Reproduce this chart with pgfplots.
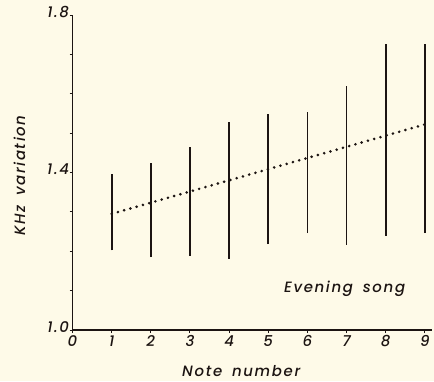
\documentclass[border=0pt]{standalone}
\usepackage{pgfplots}
\pgfplotsset{compat=1.18}
\usepackage{fontspec}
\setmainfont{Poppins Medium}[LetterSpace=11, WordSpace=1.6]
\definecolor{bg}{RGB}{254,250,232}
\definecolor{ink}{RGB}{28,20,18}
\begin{document}
\begin{tikzpicture}[x=1bp,y=1bp]
\fill[bg] (0,0) rectangle (434,381);
\begin{axis}[
  at={(72.5bp,51bp)}, anchor=origin,
  scale only axis, width=359bp, height=315bp,
  xmin=0, xmax=9.17, ymin=1.0, ymax=1.8,
  axis x line*=bottom, axis y line*=left,
  axis line style={ink, line width=1.6bp, -},
  xtick={0,1,...,9},
  ytick={1.0,1.4,1.8},
  minor ytick={1.1,1.2,1.3,1.5,1.6,1.7},
  yticklabels={1.0,1.4,1.8},
  tick align=outside,
  major tick length=3bp, minor tick length=3bp,
  tick style={ink, line width=1bp},
  /pgf/number format/assume math mode=true,
  ticklabel style={font=\fontsize{15}{17}\selectfont\itshape, text=ink},
  xticklabel style={yshift=1bp},
  yticklabel style={xshift=3bp, yshift=3bp},
  xlabel={Note number}, ylabel={KHz variation},
  label style={font=\fontsize{15}{17}\selectfont\itshape, text=ink},
  xlabel style={at={(ticklabel cs:0.47)}, anchor=north, yshift=-12bp},
  ylabel style={at={(ticklabel cs:0.49)}, anchor=south, yshift=15bp},
  clip=false,
]
\addplot[ink, line width=1.8bp] coordinates {(1,1.202) (1,1.395)};
\addplot[ink, line width=1.8bp] coordinates {(2,1.185) (2,1.423)};
\addplot[ink, line width=1.8bp] coordinates {(3,1.189) (3,1.465)};
\addplot[ink, line width=1.8bp] coordinates {(4,1.181) (4,1.527)};
\addplot[ink, line width=1.8bp] coordinates {(5,1.218) (5,1.548)};
\addplot[ink, line width=1.8bp] coordinates {(6,1.246) (6,1.554)};
\addplot[ink, line width=1.8bp] coordinates {(7,1.217) (7,1.620)};
\addplot[ink, line width=1.8bp] coordinates {(8,1.240) (8,1.726)};
\addplot[ink, line width=1.8bp] coordinates {(9,1.246) (9,1.726)};
\addplot[ink, line width=2.9bp, line cap=round, dash pattern=on 0bp off 6.5bp] coordinates {(1,1.295) (9,1.522)};
\node[font=\fontsize{15}{17}\selectfont\itshape, text=ink] at (axis cs:6.95,1.105) {Evening song};
\end{axis}
\end{tikzpicture}
\end{document}
